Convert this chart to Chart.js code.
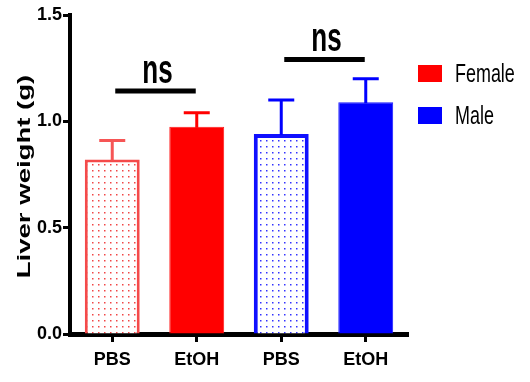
<!DOCTYPE html>
<html>
<head>
<meta charset="utf-8">
<script src="https://cdn.jsdelivr.net/npm/chart.js@4/dist/chart.umd.min.js"></script>
<style>
  html, body { margin: 0; padding: 0; background: #fff; }
  canvas { display: block; }
</style>
</head>
<body>
<canvas id="chart" width="530" height="382"></canvas>
<script>
// Groups along the x axis
const categories = ['PBS', 'EtOH', 'PBS', 'EtOH'];

// Mean liver weight (g) and SEM per group
const femaleMeans = [0.82, 0.975, null, null];
const femaleSem   = [0.09, 0.065, null, null];
const maleMeans   = [null, null, 0.94, 1.09];
const maleSem     = [null, null, 0.16, 0.11];

// Y axis ticks
const yTicks = [0.0, 0.5, 1.0, 1.5];

// Significance brackets: [from group, to group], height (g), label
const sigPairs  = [[0, 1], [2, 3]];
const sigLevels = [1.143, 1.291];
const sigLabels = ['ns', 'ns'];

const seriesNames  = ['Female', 'Male'];
const seriesColors = ['#ff0000', '#0000ff'];

const FONT = '"Liberation Sans", Arial, Helvetica, sans-serif';

// Dotted fill used for the PBS bars
function dots(color) {
  const t = document.createElement('canvas');
  t.width = 6; t.height = 6;
  const g = t.getContext('2d');
  g.fillStyle = '#ffffff';
  g.fillRect(0, 0, 6, 6);
  g.fillStyle = color;
  g.fillRect(2, 2, 1.5, 1.5);
  return document.getElementById('chart').getContext('2d').createPattern(t, 'repeat');
}
const redDots  = dots('rgba(240,60,60,0.95)');
const blueDots = dots('rgba(40,40,255,0.95)');

const errorColors = [
  ['#f65555', '#ff0000', null, null],
  [null, null, '#0000ff', '#0000ff']
];
const semSets = [femaleSem, maleSem];

// Upward-only SEM whiskers with caps
const errorBars = {
  id: 'errorBars',
  afterDatasetsDraw(chart) {
    const y = chart.scales.y, c = chart.ctx;
    chart.data.datasets.forEach((ds, di) => {
      const meta = chart.getDatasetMeta(di);
      ds.data.forEach((v, i) => {
        if (v == null) return;
        const bar = meta.data[i];
        const y0 = y.getPixelForValue(v);
        const y1 = y.getPixelForValue(v + semSets[di][i]);
        c.save();
        c.strokeStyle = errorColors[di][i];
        c.lineWidth = 3;
        c.beginPath();
        c.moveTo(bar.x, y0 + 1);
        c.lineTo(bar.x, y1);
        c.moveTo(bar.x - 13, y1);
        c.lineTo(bar.x + 13, y1);
        c.stroke();
        c.restore();
      });
    });
  }
};

// Comparison lines with their labels
const brackets = {
  id: 'brackets',
  afterDraw(chart) {
    const x = chart.scales.x, y = chart.scales.y, c = chart.ctx;
    sigPairs.forEach((p, i) => {
      const xa = x.getPixelForValue(p[0]) + 3;
      const xb = x.getPixelForValue(p[1]) - 1;
      const yy = y.getPixelForValue(sigLevels[i]);
      c.save();
      c.strokeStyle = '#000';
      c.lineWidth = 5;
      c.beginPath();
      c.moveTo(xa, yy);
      c.lineTo(xb, yy);
      c.stroke();
      c.translate((xa + xb) / 2 + 2, yy - 8);
      c.scale(1, 1.55);
      c.fillStyle = '#000';
      c.font = 'bold 26px ' + FONT;
      c.textAlign = 'center';
      c.textBaseline = 'alphabetic';
      c.fillText(sigLabels[i], 0, 0);
      c.restore();
    });
  }
};

// Series key to the right of the plot
const sideLegend = {
  id: 'sideLegend',
  afterDraw(chart) {
    const c = chart.ctx, a = chart.chartArea;
    const x0 = a.right + 10;
    const rows = [73.5, 115.5];
    seriesNames.forEach((name, i) => {
      c.save();
      c.fillStyle = seriesColors[i];
      c.fillRect(x0, rows[i] - 8.5, 24, 17);
      c.translate(x0 + 37, rows[i] + 8.5);
      c.scale(0.92, 1.3);
      c.fillStyle = '#000';
      c.font = '19.5px ' + FONT;
      c.textAlign = 'left';
      c.textBaseline = 'alphabetic';
      c.fillText(name, 0, 0);
      c.restore();
    });
  }
};

// Rotated y axis title
const yTitle = {
  id: 'yTitle',
  afterDraw(chart) {
    const c = chart.ctx, a = chart.chartArea;
    c.save();
    c.translate(25, (a.top + a.bottom) / 2 + 2);
    c.rotate(-Math.PI / 2);
    c.scale(1.45, 1);
    c.fillStyle = '#000';
    c.font = 'bold 19px ' + FONT;
    c.textAlign = 'center';
    c.textBaseline = 'middle';
    c.fillText('Liver weight (g)', 0, 0);
    c.restore();
  }
};

const tickFont = { family: FONT, size: 18, weight: 'bold' };

new Chart(document.getElementById('chart'), {
  type: 'bar',
  data: {
    labels: categories,
    datasets: [
      {
        label: seriesNames[0],
        data: femaleMeans,
        backgroundColor: [redDots, '#ff0000', null, null],
        borderColor: ['#f44a4a', '#ff1a1a', null, null],
        borderWidth: [3, 1, 0, 0],
        skipNull: true
      },
      {
        label: seriesNames[1],
        data: maleMeans,
        backgroundColor: [null, null, blueDots, '#0000ff'],
        borderColor: [null, null, '#1010ff', '#1a1aff'],
        borderWidth: [0, 0, 4, 1],
        skipNull: true
      }
    ]
  },
  options: {
    responsive: false,
    animation: false,
    devicePixelRatio: 1,
    categoryPercentage: 1,
    barPercentage: 0.65,
    layout: { padding: { left: 0, right: 122, top: 15, bottom: 0 } },
    plugins: {
      legend: { display: false },
      tooltip: { enabled: false }
    },
    scales: {
      x: {
        grid: {
          drawOnChartArea: false,
          offset: false,
          tickLength: 8,
          tickWidth: 3,
          tickColor: '#000'
        },
        border: { display: true, color: '#000', width: 5 },
        ticks: { font: tickFont, color: '#000', padding: 7, maxRotation: 0 },
        afterFit(s) { s.height = 48; }
      },
      y: {
        min: 0,
        max: 1.5,
        afterBuildTicks(s) { s.ticks = yTicks.map(v => ({ value: v })); },
        ticks: { font: tickFont, color: '#000', padding: 1, callback: v => Number(v).toFixed(1) },
        grid: {
          drawOnChartArea: false,
          tickLength: 7,
          tickWidth: 3,
          tickColor: '#000'
        },
        border: { display: true, color: '#000', width: 4 },
        afterFit(s) { s.width = 70; }
      }
    }
  },
  plugins: [errorBars, brackets, sideLegend, yTitle]
});
</script>
</body>
</html>
